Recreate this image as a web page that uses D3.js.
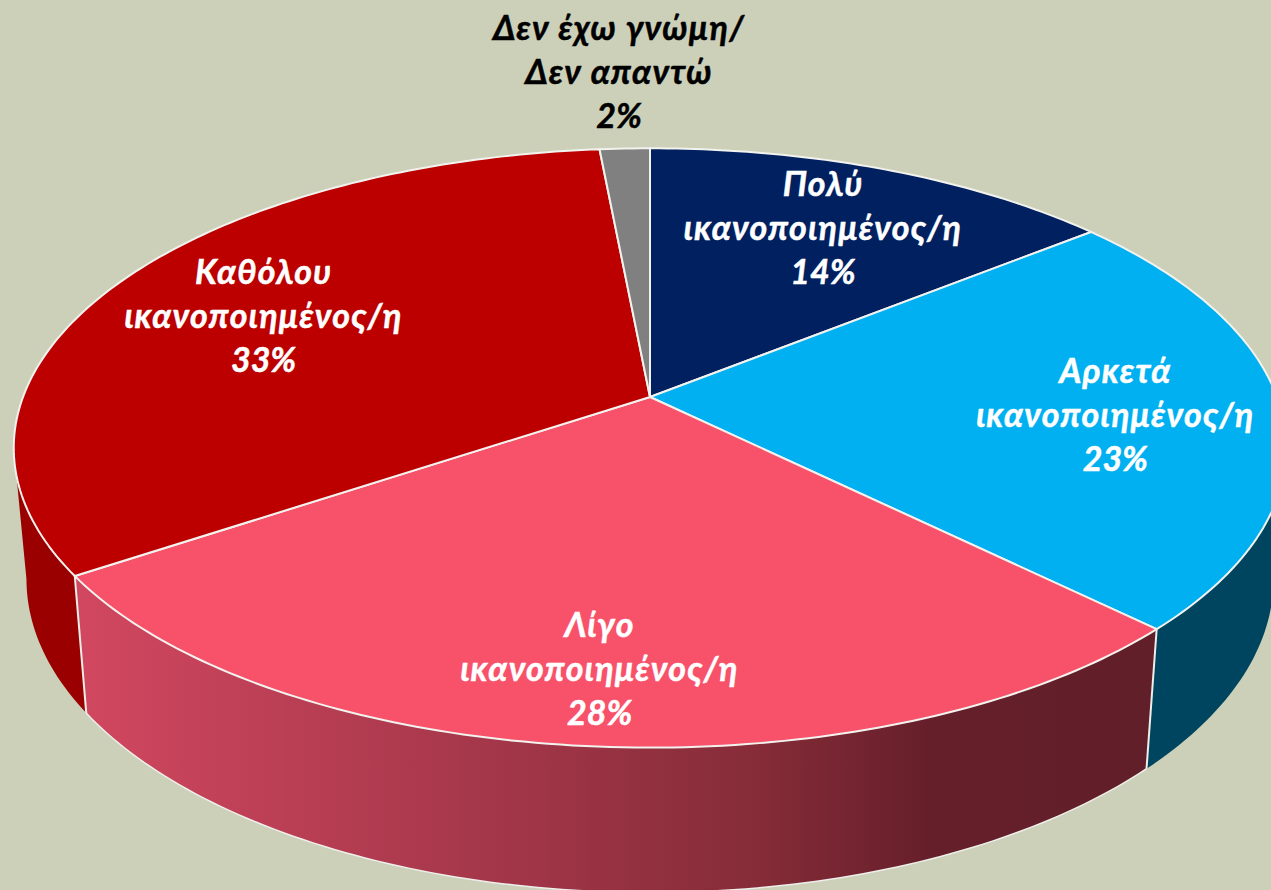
<!DOCTYPE html>
<html>
<head>
<meta charset="utf-8">
<script src="https://cdn.jsdelivr.net/npm/d3@7"></script>
<style>
  html, body { margin: 0; padding: 0; background: #ccd0b9; overflow: hidden; }
  svg { display: block; }
  text { font-family: Lato, "Noto Sans", sans-serif; font-weight: 700; font-style: italic; font-size: 34px; }
</style>
</head>
<body>
<svg id="chart" width="1271" height="890"></svg>
<script>
const categories = ["Πολύ ικανοποιημένος/η", "Αρκετά ικανοποιημένος/η", "Λίγο ικανοποιημένος/η", "Καθόλου ικανοποιημένος/η", "Δεν έχω γνώμη/ Δεν απαντώ"];
// slice shares, the labels carry the rounded figure
const shares = [14.2, 23.2, 28.2, 32.9, 1.5];
const percentLabels = ["14%", "23%", "28%", "33%", "2%"];
const labelLines = [
  ["Πολύ", "ικανοποιημένος/η"],
  ["Αρκετά", "ικανοποιημένος/η"],
  ["Λίγο", "ικανοποιημένος/η"],
  ["Καθόλου", "ικανοποιημένος/η"],
  ["Δεν έχω γνώμη/", "Δεν απαντώ"]
];

const topColors = ["#002060", "#00b0f0", "#f8516a", "#bc0000", "#808080"];
const labelColors = ["#fff", "#fff", "#fff", "#fff", "#000"];
// label placement: radial fraction and small nudge
const labelRadius = [0.7, 0.74, 0.81, 0.71, 1.38];
const labelNudge = [[2, -2], [-1, 8], [5, 1], [-4, 4], [2, 1]];

const svg = d3.select("#chart");

// Perspective disc: unit circle -> screen
const cx = 650, cy = 397, R = 627, S = 291, k = 0.17;
function project(angle, r = 1) {
  const x = r * Math.sin(angle), y = -r * Math.cos(angle);
  const w = 1 - k * y;
  return [cx + R * x / w, cy + S * y / w];
}
// Lower rim of the wall
const bottomX = d3.scaleLinear().domain([cx - 100, cx + 100]).range([cx - 98, cx + 98]);
const bottomY = d3.scaleLinear().domain([574, 748]).range([711, 893]);
function projectBottom(angle) {
  const p = project(angle);
  return [bottomX(p[0]), bottomY(p[1])];
}

const arcs = d3.pie().sort(null).value(d => d)(shares);
const line = d3.line();

function samples(a0, a1) {
  const n = Math.max(2, Math.ceil(Math.abs(a1 - a0) * 60));
  return d3.range(n + 1).map(i => a0 + (a1 - a0) * i / n);
}

// Pink wall gradient
const grad = svg.append("defs").append("linearGradient")
  .attr("id", "wallPink")
  .attr("gradientUnits", "userSpaceOnUse")
  .attr("x1", projectBottom(arcs[2].endAngle)[0])
  .attr("x2", projectBottom(arcs[2].startAngle)[0])
  .attr("y1", 0).attr("y2", 0);
grad.selectAll("stop")
  .data([[0, "#d0475f"], [0.4, "#a23649"], [0.63, "#862c38"], [0.8, "#651f2a"], [1, "#611f2a"]])
  .enter().append("stop")
  .attr("offset", d => d[0])
  .attr("stop-color", d => d[1]);

// Side walls: edge angle of the silhouette is where the rim turns back
const walls = [
  { from: arcs[1].endAngle, to: Math.PI - 1.4, fill: "#00455f" },
  { from: arcs[2].startAngle, to: arcs[2].endAngle, fill: "url(#wallPink)" },
  { from: arcs[3].startAngle, to: Math.PI + 1.4, fill: "#9a0000" }
];

svg.selectAll("path.wall")
  .data(walls)
  .enter().append("path")
  .attr("class", "wall")
  .attr("fill", d => d.fill)
  .attr("stroke", "none")
  .attr("d", d => {
    const angles = samples(d.from, d.to);
    return line(angles.map(a => project(a)).concat(angles.slice().reverse().map(projectBottom))) + "Z";
  });

// Light edges on the walls
svg.append("g").selectAll("path.seam")
  .data([arcs[2].startAngle, arcs[2].endAngle])
  .enter().append("path")
  .attr("fill", "none")
  .attr("stroke", "#eeeeea")
  .attr("stroke-width", 2)
  .attr("d", a => line([project(a), projectBottom(a)]));

svg.append("path")
  .attr("fill", "none")
  .attr("stroke", "#eeeeea")
  .attr("stroke-width", 1.5)
  .attr("d", line(samples(arcs[2].startAngle, arcs[2].endAngle).map(projectBottom)));

// Top face
svg.selectAll("path.slice")
  .data(arcs)
  .enter().append("path")
  .attr("class", "slice")
  .attr("fill", (d, i) => topColors[i])
  .attr("stroke", "#f2f2ee")
  .attr("stroke-width", 2)
  .attr("stroke-linejoin", "round")
  .attr("d", d => line([[cx, cy]].concat(samples(d.startAngle, d.endAngle).map(a => project(a)))) + "Z");

// Labels
const labels = svg.selectAll("text.label")
  .data(arcs)
  .enter().append("text")
  .attr("class", "label")
  .attr("text-anchor", "middle")
  .attr("fill", (d, i) => labelColors[i])
  .attr("stroke", (d, i) => labelColors[i])
  .attr("stroke-width", 0.5)
  .attr("transform", (d, i) => {
    const p = project((d.startAngle + d.endAngle) / 2, labelRadius[i]);
    return `translate(${p[0] + labelNudge[i][0]},${p[1] + labelNudge[i][1]})`;
  });

labels.each(function(d, i) {
  const rows = labelLines[i].concat(percentLabels[i]);
  d3.select(this).selectAll("tspan")
    .data(rows)
    .enter().append("tspan")
    .attr("x", 0)
    .attr("y", (t, j) => (j - 1) * 44 + 11)
    .attr("letter-spacing", (t, j) => j < 2 ? 1.25 : 0)
    .text(t => t);
});
</script>
</body>
</html>
